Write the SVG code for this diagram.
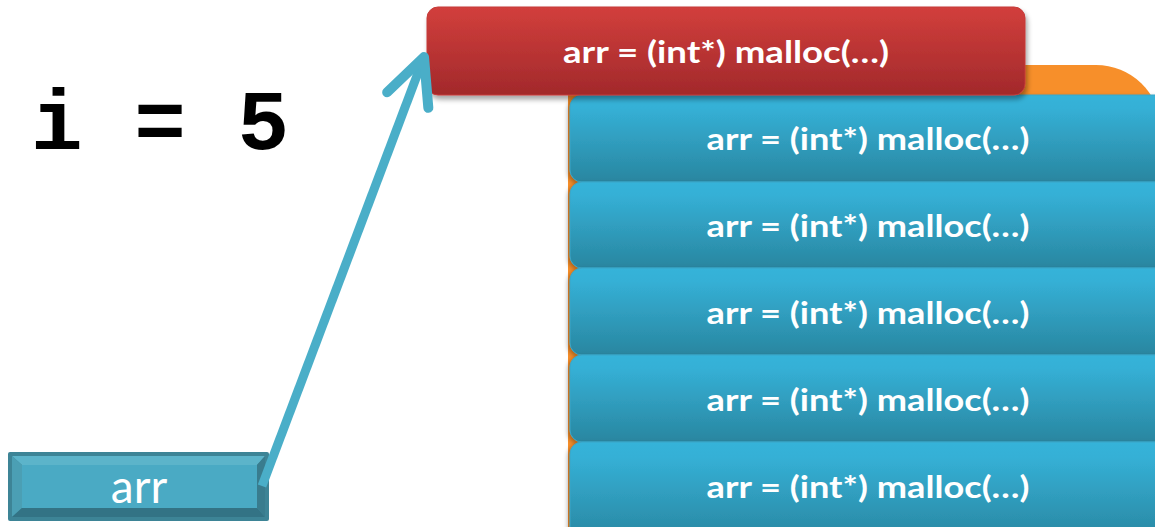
<svg xmlns="http://www.w3.org/2000/svg" width="1155" height="527" viewBox="0 0 1155 527">
  <defs>
    <linearGradient id="gRed" x1="0" y1="0" x2="0" y2="1">
      <stop offset="0" stop-color="#d23f3c"/>
      <stop offset="1" stop-color="#a2292b"/>
    </linearGradient>
    <linearGradient id="gBlue" x1="0" y1="0" x2="0" y2="1">
      <stop offset="0" stop-color="#36b3d9"/>
      <stop offset="0.15" stop-color="#35b0d6"/>
      <stop offset="1" stop-color="#2986a0"/>
    </linearGradient>
    <filter id="shRed" x="-5%" y="-20%" width="110%" height="150%">
      <feDropShadow dx="2" dy="4" stdDeviation="2.5" flood-color="#000" flood-opacity="0.35"/>
    </filter>
    <filter id="shBlue" x="-5%" y="-20%" width="110%" height="150%">
      <feDropShadow dx="-2" dy="2" stdDeviation="2" flood-color="#000" flood-opacity="0.3"/>
    </filter>
    <marker id="chev" viewBox="-60 -30 70 60" refX="0" refY="0" markerWidth="70" markerHeight="60" markerUnits="userSpaceOnUse" orient="auto">
      <path d="M-46,-22 L0,0 L-46,22" fill="none" stroke="#4aaec8" stroke-width="10" stroke-linecap="round" stroke-linejoin="round"/>
    </marker>
    <style>
      .lbl { font-family: "Lato", "Open Sans", "Liberation Sans", sans-serif; font-weight: bold; font-size: 31px; fill: #ffffff; text-anchor: middle; }
      .blue { fill: url(#gBlue); stroke: #3aa6c8; stroke-width: 1; filter: url(#shBlue); }
    </style>
  </defs>

  <rect width="1155" height="527" fill="#ffffff"/>

  <!-- orange backdrop behind the stack -->
  <path id="backdrop" d="M568,540 V65 H1096 A64,62 0 0 1 1160,127 V540 Z" fill="#f78f2a"/>

  <!-- stacked allocation calls -->
  <g id="call1">
    <rect class="blue" x="570" y="95" width="600" height="87" rx="12"/>
    <text class="lbl" x="868" y="150" textLength="323" lengthAdjust="spacingAndGlyphs">arr = (int*) malloc(…)</text>
  </g>
  <g id="call2">
    <rect class="blue" x="570" y="182" width="600" height="86" rx="12"/>
    <text class="lbl" x="868" y="237" textLength="323" lengthAdjust="spacingAndGlyphs">arr = (int*) malloc(…)</text>
  </g>
  <g id="call3">
    <rect class="blue" x="570" y="268" width="600" height="87" rx="12"/>
    <text class="lbl" x="868" y="324" textLength="323" lengthAdjust="spacingAndGlyphs">arr = (int*) malloc(…)</text>
  </g>
  <g id="call4">
    <rect class="blue" x="570" y="355" width="600" height="87" rx="12"/>
    <text class="lbl" x="868" y="411" textLength="323" lengthAdjust="spacingAndGlyphs">arr = (int*) malloc(…)</text>
  </g>
  <g id="call5">
    <rect class="blue" x="570" y="442" width="600" height="100" rx="12"/>
    <text class="lbl" x="868" y="498" textLength="323" lengthAdjust="spacingAndGlyphs">arr = (int*) malloc(…)</text>
  </g>

  <!-- current call -->
  <g id="current">
    <rect x="427" y="7" width="598" height="88" rx="11" fill="url(#gRed)" stroke="#c53a38" stroke-width="1" filter="url(#shRed)"/>
    <text class="lbl" x="726" y="63" textLength="326" lengthAdjust="spacingAndGlyphs">arr = (int*) malloc(…)</text>
  </g>

  <!-- loop counter -->
  <g id="counter">
    <text x="31" y="149" font-family="'Liberation Mono', 'DejaVu Sans Mono', monospace" font-weight="bold" font-size="86" fill="#000000">i = 5</text>
  </g>

  <!-- pointer variable -->
  <g id="arr">
    <rect x="8" y="452" width="261" height="69" rx="2" fill="#3d8496"/>
    <polygon points="12,456 265,456 257,465 22,465" fill="#5cb4ca"/>
    <polygon points="12,456 22,465 22,508 12,517" fill="#4b9fb4"/>
    <polygon points="12,517 22,508 257,508 265,517" fill="#337385"/>
    <polygon points="265,456 265,517 257,508 257,465" fill="#397c8e"/>
    <rect x="22" y="465" width="235" height="43" fill="#4aaac4"/>
    <text x="139" y="503" font-family="Lato, 'Open Sans', 'Liberation Sans', sans-serif" font-size="46" fill="#ffffff" text-anchor="middle">arr</text>
  </g>

  <!-- connectors -->
  <g id="connectors">
    <line x1="262" y1="486" x2="424" y2="57" stroke="#4aaec8" stroke-width="9" marker-end="url(#chev)"/>
  </g>
</svg>
